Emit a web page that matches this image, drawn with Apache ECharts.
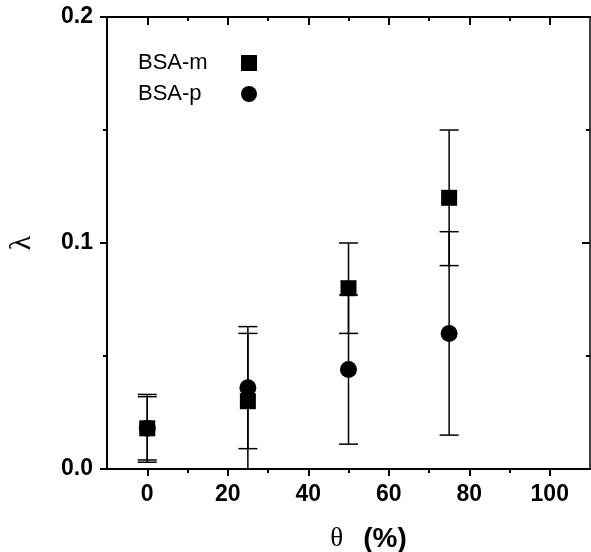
<!DOCTYPE html>
<html>
<head>
<meta charset="utf-8">
<script src="https://cdn.jsdelivr.net/npm/echarts@6/dist/echarts.min.js"></script>
<style>
  html, body { margin: 0; padding: 0; background: #fff; }
  #chart { width: 591px; height: 552px; }
</style>
</head>
<body>
<div id="chart"></div>
<script>
'use strict';
// values
const thetaValues = [0, 25, 50, 75];
const bsaM = [0.018, 0.030, 0.080, 0.120];
const bsaMErr = [0.015, 0.030, 0.020, 0.030];
const bsaP = [0.018, 0.036, 0.044, 0.060];
const bsaPErr = [0.014, 0.027, 0.033, 0.045];

const xMajorTicks = [0, 20, 40, 60, 80, 100];
const xMinorTicks = [10, 30, 50, 70, 90];

const seriesNames = ['BSA-m', 'BSA-p'];

function pointsOf(vals) {
  return thetaValues.map((t, i) => [t, vals[i]]);
}

function errPointsOf(vals, errs) {
  return thetaValues.map((t, i) => [t, vals[i] - errs[i], vals[i] + errs[i]]);
}

// vertical error bar with caps
function renderErrBar(params, api) {
  var lo = api.coord([api.value(0), api.value(1)]);
  var hi = api.coord([api.value(0), api.value(2)]);
  var half = 9.5;
  var style = { stroke: '#000', lineWidth: 1.5 };
  return {
    type: 'group',
    children: [
      { type: 'line', shape: { x1: lo[0], y1: lo[1], x2: hi[0], y2: hi[1] }, style: style },
      { type: 'line', shape: { x1: lo[0] - half, y1: lo[1], x2: lo[0] + half, y2: lo[1] }, style: style },
      { type: 'line', shape: { x1: hi[0] - half, y1: hi[1], x2: hi[0] + half, y2: hi[1] }, style: style }
    ]
  };
}

const labelFont = { fontFamily: 'Liberation Sans, Arial, sans-serif', fontWeight: 'bold', fontSize: 23, color: '#000' };

function xAxisOf(pos, ticks, inside, len, labels, line) {
  return {
    type: 'value', min: -10, max: 110, position: pos,
    axisLine: { show: line, onZero: false, lineStyle: { color: '#000', width: 2 } },
    axisTick: { show: true, inside: inside, length: len, customValues: ticks, lineStyle: { color: '#000', width: 2 } },
    axisLabel: labels ? Object.assign({ customValues: ticks, margin: 14 }, labelFont) : { show: false },
    splitLine: { show: false }
  };
}

var chart = echarts.init(document.getElementById('chart'));

var option = {
  animation: false,
  backgroundColor: '#fff',
  grid: { left: 107, right: 1, top: 17, bottom: 83, containLabel: false, outerBoundsMode: 'none' },
  legend: {
    orient: 'vertical',
    left: 133, top: 47,
    align: 'right',
    itemWidth: 16, itemHeight: 16,
    itemGap: 9,
    data: [
      { name: seriesNames[0], icon: 'rect' },
      { name: seriesNames[1], icon: 'circle' }
    ],
    formatter: name => '{n|' + name + '}',
    textStyle: {
      padding: [0, 26, 0, 0],
      rich: {
        n: { fontFamily: 'Liberation Sans, Arial, sans-serif', fontSize: 22, color: '#000', width: 72, align: 'left' }
      }
    }
  },
  xAxis: [
    Object.assign(xAxisOf('bottom', xMajorTicks, false, 7, true, true), {
      name: '{t|θ}{p|(%)}',
      nameLocation: 'middle',
      nameGap: 56,
      nameTextStyle: {
        padding: [0, 0, 0, 40],
        rich: {
          t: { fontFamily: 'Liberation Serif, serif', fontSize: 27, color: '#000' },
          p: { fontFamily: 'Liberation Sans, Arial, sans-serif', fontWeight: 'bold', fontSize: 28, color: '#000', padding: [0, 0, 0, 20] }
        }
      }
    }),
    xAxisOf('top', xMajorTicks, true, 8, false, true),
    xAxisOf('bottom', xMinorTicks, false, 4, false, false),
    xAxisOf('top', xMinorTicks, true, 4, false, false)
  ],
  yAxis: [
    {
      type: 'value', min: 0, max: 0.2, interval: 0.1, position: 'left',
      name: 'λ', nameLocation: 'middle', nameGap: 70, nameRotate: 90,
      nameTextStyle: { fontFamily: 'Liberation Serif, serif', fontSize: 30, color: '#000' },
      axisLine: { show: true, onZero: false, lineStyle: { color: '#000', width: 2 } },
      axisTick: { show: true, inside: false, length: 7, lineStyle: { color: '#000', width: 2 } },
      minorTick: { show: true, splitNumber: 2, length: 4, lineStyle: { color: '#000', width: 2 } },
      axisLabel: Object.assign({ margin: 14, formatter: v => v.toFixed(1) }, labelFont),
      splitLine: { show: false }
    },
    {
      type: 'value', min: 0, max: 0.2, interval: 0.1, position: 'right',
      axisLine: { show: true, onZero: false, lineStyle: { color: '#000', width: 1.5 } },
      axisTick: { show: true, inside: true, length: 8, lineStyle: { color: '#000', width: 2 } },
      minorTick: { show: true, splitNumber: 2, length: 4, lineStyle: { color: '#000', width: 2 } },
      axisLabel: { show: false },
      splitLine: { show: false }
    }
  ],
  series: [
    { type: 'custom', name: 'errM', renderItem: renderErrBar, data: errPointsOf(bsaM, bsaMErr), z: 2, silent: true },
    { type: 'custom', name: 'errP', renderItem: renderErrBar, data: errPointsOf(bsaP, bsaPErr), z: 2, silent: true },
    {
      type: 'scatter', name: seriesNames[1], symbol: 'circle', symbolSize: 17,
      itemStyle: { color: '#000', opacity: 1 }, data: pointsOf(bsaP), z: 3
    },
    {
      type: 'scatter', name: seriesNames[0], symbol: 'rect', symbolSize: 16,
      itemStyle: { color: '#000', opacity: 1 }, data: pointsOf(bsaM), z: 4
    }
  ]
};

chart.setOption(option);
</script>
</body>
</html>
